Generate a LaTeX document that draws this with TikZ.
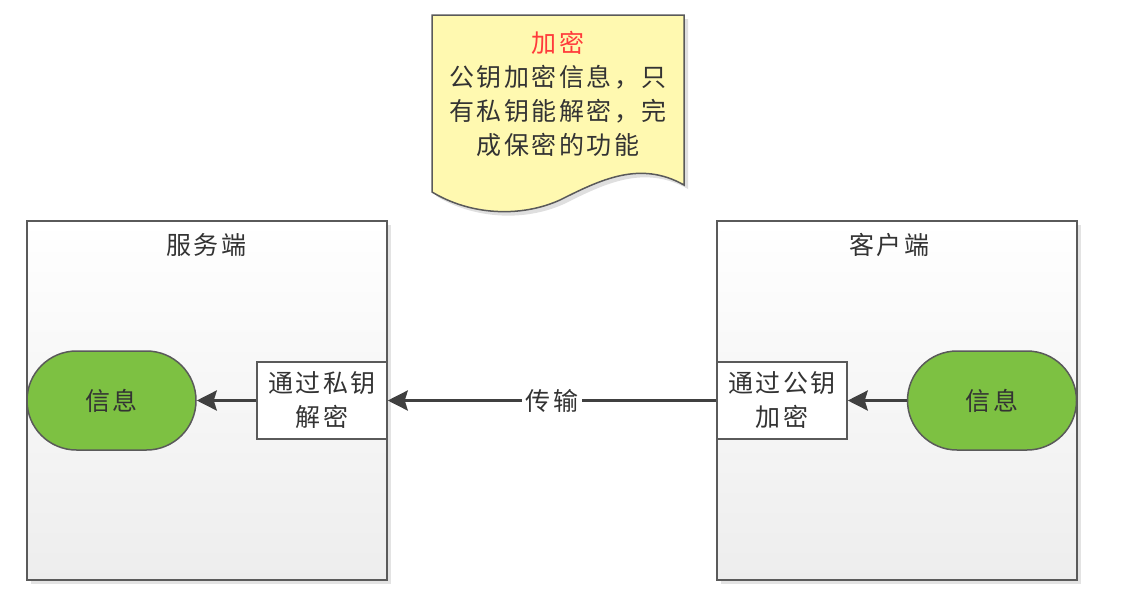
\documentclass[tikz,border=0pt]{standalone}
\usepackage{fontspec}
\setmainfont{Noto Sans CJK SC}
\newfontfamily\cjk[LetterSpace=10]{Noto Sans CJK SC}
\usetikzlibrary{shapes.misc,arrows.meta}
\definecolor{pillgreen}{HTML}{7DC142}
\definecolor{noteyellow}{HTML}{FFF9B0}
\definecolor{linegray}{HTML}{404040}
\definecolor{bordergray}{HTML}{5A5A5A}
\definecolor{txtgray}{HTML}{333333}
\definecolor{notered}{HTML}{FF3B3B}
\tikzset{
  txt/.style={font=\cjk\fontsize{25}{34}\selectfont, text=txtgray, align=center, inner sep=0pt},
  container/.style={draw=bordergray, line width=1.8pt, top color=white, bottom color=gray!14, minimum width=360pt, minimum height=359pt, inner sep=0pt},
  pill/.style={rounded rectangle, draw=bordergray, line width=1.5pt, fill=pillgreen, minimum width=169pt, minimum height=99pt, inner sep=0pt, txt},
  stepbox/.style={draw=bordergray, line width=1.5pt, fill=white, minimum width=130pt, minimum height=77pt, inner sep=0pt, txt},
  conn/.style={draw=linegray, line width=3pt, -{Stealth[length=20pt,width=20pt,inset=3pt]}}
}
\begin{document}
\begin{tikzpicture}[x=1pt,y=-1pt]
\useasboundingbox (0,0) rectangle (1126,608);
% containers with shadows
\fill[gray!22] (31,225) rectangle (391,584);
\fill[gray!22] (721,225) rectangle (1081,584);
\node[container] (server) at (207,400.5) {};
\node[container] (client) at (897,400.5) {};
\node[txt] (servertitle) at (206,245) {服务端};
\node[txt] (clienttitle) at (889,245) {客户端};
% note
\fill[gray!25] (436,19) -- (688,19) -- (688,189) .. controls (644,164) and (604,184) .. (564,204) .. controls (524,222) and (474,219) .. (436,196) -- cycle;
\draw[draw=bordergray, line width=1.5pt, fill=noteyellow] (432,15) -- (684,15) -- (684,185) .. controls (640,160) and (600,180) .. (560,200) .. controls (520,218) and (470,215) .. (432,192) -- cycle;
\node[txt] (note) at (558,93.5) {\textcolor{notered}{加密}\\公钥加密信息，只\\有私钥能解密，完\\成保密的功能};
% nodes
\node[pill] (spill) at (111.5,400.5) {信息};
\node[pill] (cpill) at (992,400.5) {信息};
\node[stepbox] (sbox) at (322,400.5) {通过私钥\\解密};
\node[stepbox] (cbox) at (782,400.5) {通过公钥\\加密};
% connectors
\draw[conn] (cpill.west) -- (cbox.east);
\draw[conn] (cbox.west) -- node[txt, fill=white, inner xsep=4pt, inner ysep=2pt] (trans) {传输} (sbox.east);
\draw[conn] (sbox.west) -- (spill.east);
\end{tikzpicture}
\end{document}
